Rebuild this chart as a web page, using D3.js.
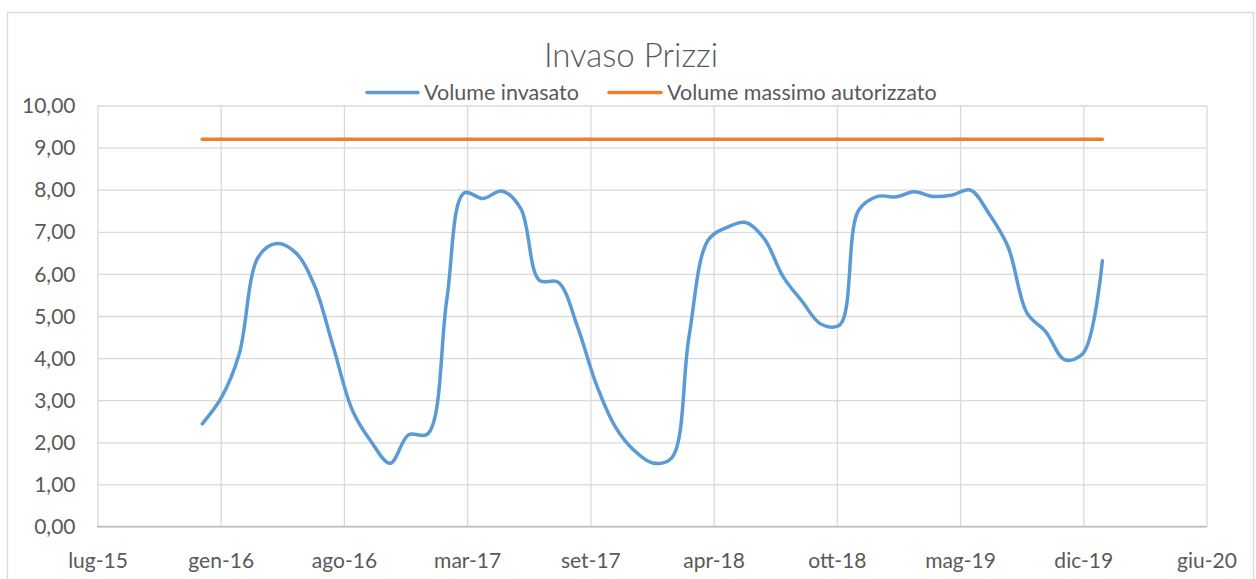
<!DOCTYPE html>
<html>
<head>
<meta charset="utf-8">
<script src="https://cdn.jsdelivr.net/npm/d3@7"></script>
<style>
  html, body { margin: 0; padding: 0; background: #fff; }
  svg { display: block; }
  text { font-family: Lato, "Open Sans", sans-serif; fill: #595959; }
</style>
</head>
<body>
<svg id="chart" width="1256" height="579"></svg>
<script>
// Monthly stored volume (first of each month)
const months = [
  "2016-01-01","2016-02-01","2016-03-01","2016-04-01","2016-05-01","2016-06-01",
  "2016-07-01","2016-08-01","2016-09-01","2016-10-01","2016-11-01","2016-12-01",
  "2017-01-01","2017-02-01","2017-03-01","2017-04-01","2017-05-01","2017-06-01",
  "2017-07-01","2017-08-01","2017-09-01","2017-10-01","2017-11-01","2017-12-01",
  "2018-01-01","2018-02-01","2018-03-01","2018-04-01","2018-05-01","2018-06-01",
  "2018-07-01","2018-08-01","2018-09-01","2018-10-01","2018-11-01","2018-12-01",
  "2019-01-01","2019-02-01","2019-03-01","2019-04-01","2019-05-01","2019-06-01",
  "2019-07-01","2019-08-01","2019-09-01","2019-10-01","2019-11-01","2019-12-01",
  "2020-01-01"
];
const volumeInvasato = [
  2.44, 3.06, 4.10, 6.40, 6.72, 6.50, 5.73, 4.25, 2.75, 2.02, 1.50, 2.18,
  2.20, 5.40, 7.92, 7.79, 7.97, 7.55, 5.85, 5.80, 4.75, 3.40, 2.38, 1.82,
  1.51, 1.63, 4.50, 6.80, 7.10, 7.22, 6.84, 5.93, 5.34, 4.81, 4.79, 7.50,
  7.84, 7.83, 7.95, 7.84, 7.87, 7.99, 7.43, 6.64, 5.06, 4.63, 3.96, 4.12,
  6.31
];

// Authorised maximum volume
const maxDates = ["2016-01-01", "2020-01-01"];
const volumeMassimo = [9.2, 9.2];

// Axis ticks
const xTickDates = ["2015-07-15","2016-01-31","2016-08-18","2017-03-06","2017-09-22",
                    "2018-04-10","2018-10-27","2019-05-15","2019-12-01","2020-06-18"];
const xTickLabels = ["lug-15","gen-16","ago-16","mar-17","set-17",
                     "apr-18","ott-18","mag-19","dic-19","giu-20"];
const yTicks = [0,1,2,3,4,5,6,7,8,9,10];

const seriesNames = ["Volume invasato", "Volume massimo autorizzato"];
const seriesColors = ["#5B9BD5", "#ED7D31"];
const title = "Invaso Prizzi";

const parse = d3.utcParse("%Y-%m-%d");
const svg = d3.select("#chart");

const plot = { left: 97.5, right: 1206.5, top: 105.5, bottom: 526.5 };

const x = d3.scaleUtc()
  .domain([parse(xTickDates[0]), parse(xTickDates[xTickDates.length - 1])])
  .range([plot.left, plot.right]);
const y = d3.scaleLinear().domain([0, 10]).range([plot.bottom, plot.top]);

// outer chart frame
svg.append("rect")
  .attr("x", 7.5).attr("y", 12.5).attr("width", 1246).attr("height", 580)
  .attr("fill", "#fff").attr("stroke", "#d9d9d9").attr("stroke-width", 1.3);

// horizontal gridlines
const yAxis = d3.axisLeft(y).tickValues(yTicks).tickSize(-(plot.right - plot.left))
  .tickFormat(d => d3.format(".2f")(d).replace(".", ","));
const gy = svg.append("g").attr("transform", `translate(${plot.left},0)`).call(yAxis);
gy.select(".domain").remove();
gy.selectAll(".tick line").attr("stroke", "#d9d9d9").attr("stroke-width", 1.3);
gy.selectAll(".tick text")
  .attr("x", -22).attr("dy", "0.34em")
  .style("font-size", "21px").attr("fill", "#595959");

// vertical gridlines
const xDates = xTickDates.map(parse);
const xAxis = d3.axisBottom(x).tickValues(xDates).tickSize(-(plot.bottom - plot.top))
  .tickFormat((d, i) => xTickLabels[i]);
const gx = svg.append("g").attr("transform", `translate(0,${plot.bottom})`).call(xAxis);
gx.select(".domain").remove();
gx.selectAll(".tick line").attr("stroke", "#d9d9d9").attr("stroke-width", 1.3);
gx.selectAll(".tick text")
  .attr("y", 27).attr("dy", "0.71em")
  .style("font-size", "21px").attr("fill", "#595959");

// category axis baseline
svg.append("line")
  .attr("x1", plot.left - 0.5).attr("x2", plot.right + 0.5)
  .attr("y1", plot.bottom).attr("y2", plot.bottom)
  .attr("stroke", "#bfbfbf").attr("stroke-width", 1.5);

// series
const line = d3.line()
  .x(d => x(d.date)).y(d => y(d.value))
  .curve(d3.curveCatmullRom.alpha(0.5));

const maxData = maxDates.map((d, i) => ({ date: parse(d), value: volumeMassimo[i] }));
svg.append("path").datum(maxData)
  .attr("d", line).attr("fill", "none")
  .attr("stroke", seriesColors[1]).attr("stroke-width", 3.5).attr("stroke-linecap", "round");

const volData = months.map((d, i) => ({ date: parse(d), value: volumeInvasato[i] }));
svg.append("path").datum(volData)
  .attr("d", line).attr("fill", "none")
  .attr("stroke", seriesColors[0]).attr("stroke-width", 3.5)
  .attr("stroke-linecap", "round").attr("stroke-linejoin", "round");

// title
svg.append("text")
  .attr("x", 631).attr("y", 67)
  .attr("text-anchor", "middle")
  .style("font-size", "33px").style("font-weight", 300)
  .text(title);

// legend
const legendItems = [
  { x1: 367, x2: 418, tx: 424 },
  { x1: 609, x2: 661, tx: 667 }
];
legendItems.forEach((it, i) => {
  svg.append("line")
    .attr("x1", it.x1).attr("x2", it.x2).attr("y1", 92.5).attr("y2", 92.5)
    .attr("stroke", seriesColors[i]).attr("stroke-width", 3.5).attr("stroke-linecap", "round");
  svg.append("text")
    .attr("x", it.tx).attr("y", 99.5)
    .style("font-size", "21.5px")
    .text(seriesNames[i]);
});
</script>
</body>
</html>
